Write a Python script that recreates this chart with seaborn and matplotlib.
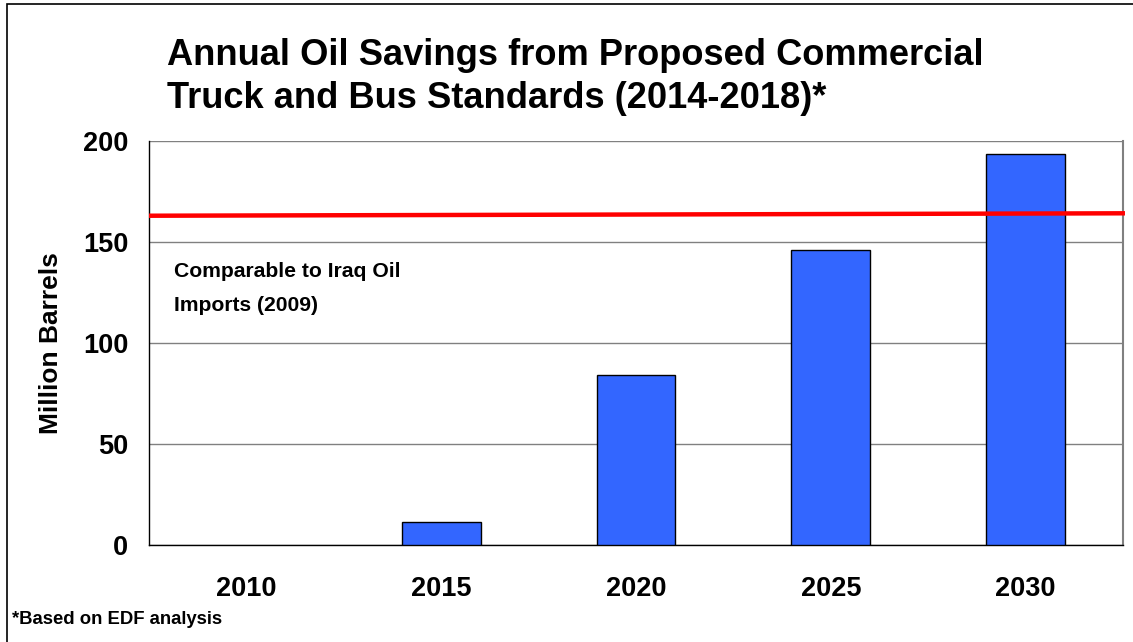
import matplotlib
matplotlib.use("Agg")
import matplotlib.pyplot as plt
import matplotlib.patches as mpatches
import seaborn as sns
import pandas as pd

# Data
#-------------------------------------------------------------------------------------------------#
years = ["2010", "2015", "2020", "2025", "2030"]
savings = [0, 11.4, 84.2, 145.8, 193.4]          # million barrels
iraq_imports = [163.0, 164.2]                      # reference line, left end -> right end
y_ticks = [0, 50, 100, 150, 200]

title = "Annual Oil Savings from Proposed Commercial\nTruck and Bus Standards (2014-2018)*"
note = "Comparable to Iraq Oil\nImports (2009)"
footnote = "*Based on EDF analysis"

sns.set_theme(style="white")
plt.rcParams["font.family"] = ["Liberation Sans", "DejaVu Sans"]
plt.rcParams["font.weight"] = "bold"
plt.rcParams["text.color"] = "black"
plt.rcParams["axes.labelcolor"] = "black"
plt.rcParams["xtick.color"] = "black"
plt.rcParams["ytick.color"] = "black"

df = pd.DataFrame({"year": years, "savings": savings})

fig = plt.figure(figsize=(11.33, 6.42), dpi=100)
ax = fig.add_axes([0.1315, 0.1511, 0.9912 - 0.1315, 0.7804 - 0.1511])

sns.barplot(data=df, x="year", y="savings", color="#3366FF", saturation=1,
            width=0.405, edgecolor="black", linewidth=1.0, ax=ax, zorder=3)
# no outline on empty bars
for bar in ax.patches:
    if bar.get_height() == 0:
        bar.set_linewidth(0)

ax.set_xlim(-0.5, len(years) - 0.5)
ax.set_ylim(0, 200)
ax.set_yticks(y_ticks)
ax.set_yticklabels([str(t) for t in y_ticks], fontsize=19.5, fontweight="bold")

# category labels centred, ticks on the category boundaries
ax.set_xticks([i - 0.5 for i in range(len(years) + 1)])
ax.set_xticklabels([])
ax.set_xticks(range(len(years)), minor=True)
ax.set_xticklabels(years, minor=True, fontsize=19.5, fontweight="bold")
ax.tick_params(axis="x", which="minor", length=0, pad=22.5)
ax.tick_params(axis="x", which="major", length=7, width=1, color="black", direction="out")
ax.tick_params(axis="y", length=7, width=1, color="black", direction="out", pad=8)
ax.set_xlabel("")
ax.set_ylabel("Million Barrels", fontsize=19, fontweight="bold", labelpad=14)

ax.yaxis.grid(True, color="#808080", linewidth=1.0, zorder=0)
ax.set_axisbelow(True)
for side in ["left", "bottom"]:
    ax.spines[side].set_color("black")
    ax.spines[side].set_linewidth(1.0)
ax.spines["top"].set_visible(False)
ax.spines["right"].set_color("#808080")
ax.spines["right"].set_linewidth(1.5)

# red reference line for Iraq oil imports
ax.plot([-0.5, len(years) - 0.49], iraq_imports, color="#FF0000", linewidth=3.2,
        zorder=4, clip_on=False, solid_capstyle="butt")
ax.text(-0.37, 140.2, note, fontsize=15.2, fontweight="bold", va="top", ha="left",
        linespacing=2.0)

fig.text(167 / 1133, 1 - 38 / 642, title, fontsize=26.1, fontweight="bold",
         va="top", ha="left", linespacing=1.3)
fig.text(12 / 1133, 1 - 619 / 642, footnote, fontsize=13.3, fontweight="bold",
         va="center", ha="left")

# frame around the figure (left and top edges visible)
fig.patches.append(mpatches.Rectangle((7 / 1133, -0.1), 1.2, 1.1 - 4 / 642,
                                      transform=fig.transFigure, fill=False,
                                      edgecolor="black", linewidth=1.2))

fig.savefig("out.png", dpi=100)
